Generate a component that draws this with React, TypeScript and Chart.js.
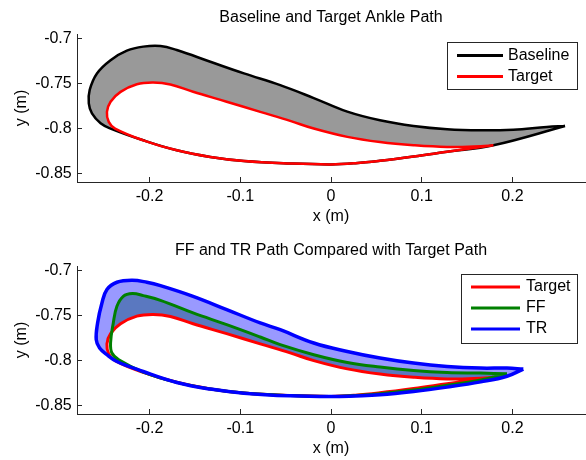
import React, { useEffect, useRef } from 'react';
import { Chart, registerables } from 'chart.js';

Chart.register(...registerables);

const FONT = '"Liberation Sans", Arial, Helvetica, sans-serif';

// ---- axis ticks / limits ----
const xTickValues = [-0.2, -0.1, 0, 0.1, 0.2];
const xTickLabels = ['-0.2', '-0.1', '0', '0.1', '0.2'];
const yTickValues = [-0.85, -0.8, -0.75, -0.7];
const yTickLabels = ['-0.85', '-0.8', '-0.75', '-0.7'];
const xLimits = [-0.28, 0.28];
const yLimits = [-0.859, -0.695];

// ---- Baseline ankle path (closed loop) ----
const baselineX = [0.258, 0.238, 0.201, 0.165, 0.128, 0.091, 0.054, 0.018, -0.019, -0.056, -0.096, -0.133, -0.170, -0.188, -0.207, -0.225, -0.243, -0.258, -0.266, -0.267, -0.2635, -0.254, -0.243, -0.207, -0.170, -0.133, -0.096, -0.045, 0.000, 0.027, 0.054, 0.091, 0.128, 0.179, 0.258];
const baselineY = [-0.797, -0.798, -0.801, -0.8017, -0.8006, -0.797, -0.7906, -0.781, -0.766, -0.7517, -0.7387, -0.7258, -0.7128, -0.7083, -0.709, -0.7135, -0.724, -0.7387, -0.757, -0.772, -0.783, -0.794, -0.7998, -0.8128, -0.8239, -0.8313, -0.8358, -0.8385, -0.8395, -0.8382, -0.8355, -0.8308, -0.8255, -0.8183, -0.797];

// ---- Target ankle path (closed loop) ----
const targetX = [0.179, 0.165, 0.128, 0.091, 0.054, 0.018, -0.019, -0.045, -0.078, -0.115, -0.152, -0.177, -0.196, -0.214, -0.232, -0.243, -0.247, -0.245, -0.238, -0.207, -0.170, -0.133, -0.096, -0.045, 0.000, 0.027, 0.054, 0.091, 0.128, 0.179];
const targetY = [-0.8183, -0.8194, -0.8202, -0.8183, -0.8147, -0.809, -0.7998, -0.7913, -0.7813, -0.770, -0.759, -0.7509, -0.7487, -0.7506, -0.7591, -0.770, -0.7813, -0.7924, -0.7998, -0.8128, -0.8239, -0.8313, -0.8358, -0.8385, -0.8395, -0.8382, -0.8355, -0.8308, -0.8255, -0.8183];

// ---- FF path (closed loop) ----
const ffX = [0.194, 0.165, 0.128, 0.091, 0.054, 0.018, -0.019, -0.056, -0.078, -0.115, -0.152, -0.188, -0.207, -0.219, -0.229, -0.236, -0.240, -0.243, -0.2415, -0.234, -0.207, -0.170, -0.133, -0.096, -0.045, 0.000, 0.027, 0.054, 0.091, 0.128, 0.165, 0.194];
const ffY = [-0.8144, -0.8137, -0.8130, -0.8108, -0.8070, -0.8019, -0.7933, -0.7822, -0.7737, -0.760, -0.747, -0.733, -0.7278, -0.7256, -0.7286, -0.7397, -0.7581, -0.7803, -0.7914, -0.7989, -0.8125, -0.824, -0.8313, -0.8358, -0.8386, -0.8396, -0.8385, -0.8365, -0.8325, -0.8272, -0.8212, -0.8144];

// ---- TR path (closed loop) ----
const trX = [0.212, 0.194, 0.165, 0.128, 0.091, 0.054, 0.018, -0.019, -0.056, -0.078, -0.115, -0.152, -0.188, -0.203, -0.219, -0.236, -0.247, -0.2525, -0.2573, -0.2588, -0.2551, -0.247, -0.236, -0.207, -0.170, -0.133, -0.096, -0.045, 0.000, 0.027, 0.054, 0.091, 0.128, 0.165, 0.194, 0.212];
const trY = [-0.8092, -0.8081, -0.8081, -0.8063, -0.8026, -0.797, -0.7897, -0.7803, -0.7656, -0.7581, -0.7433, -0.7286, -0.7167, -0.713, -0.7108, -0.713, -0.7211, -0.7359, -0.7581, -0.7767, -0.7859, -0.7933, -0.8008, -0.8119, -0.8241, -0.8314, -0.8359, -0.8389, -0.8397, -0.8390, -0.8378, -0.8341, -0.8292, -0.8234, -0.8172, -0.8092];

const toPoints = (xs: number[], ys: number[]) => xs.map((x, i) => ({ x, y: ys[i] }));

Chart.defaults.font.family = FONT;
Chart.defaults.font.size = 16;
Chart.defaults.color = '#000';

type LegendCfg = {
  x: number; y: number; w: number; h: number;
  firstRow: number; rowGap: number;
  lineStart: number; lineLen: number; textStart: number;
  items: number[];
};

function makeBoxLegend(cfg: LegendCfg) {
  return {
    id: 'boxLegend',
    afterDraw(chart: any) {
      const ctx = chart.ctx as CanvasRenderingContext2D;
      ctx.save();
      ctx.fillStyle = '#ffffff';
      ctx.fillRect(cfg.x, cfg.y, cfg.w, cfg.h);
      ctx.strokeStyle = '#262626';
      ctx.lineWidth = 1;
      ctx.strokeRect(cfg.x + 0.5, cfg.y + 0.5, cfg.w, cfg.h);
      ctx.font = `16px ${FONT}`;
      ctx.textBaseline = 'middle';
      ctx.textAlign = 'left';
      cfg.items.forEach((idx, r) => {
        const ds = chart.data.datasets[idx];
        const yy = cfg.y + cfg.firstRow + r * cfg.rowGap;
        ctx.strokeStyle = ds.borderColor;
        ctx.lineWidth = 3;
        ctx.beginPath();
        ctx.moveTo(cfg.x + cfg.lineStart, yy);
        ctx.lineTo(cfg.x + cfg.lineStart + cfg.lineLen, yy);
        ctx.stroke();
        ctx.fillStyle = '#000';
        ctx.fillText(ds.label, cfg.x + cfg.textStart, yy);
      });
      ctx.restore();
    },
  };
}

function makeOptions(title: string, canvasH: number, xTitlePad: number, titleTop: number) {
  const axisColor = '#262626';
  return {
    responsive: false,
    animation: false as const,
    layout: { padding: { left: 0, right: 1, top: 0, bottom: 0 } },
    elements: { point: { radius: 0, hoverRadius: 0 }, line: { tension: 0.4 } },
    plugins: {
      legend: { display: false },
      tooltip: { enabled: false },
      filler: { drawTime: 'beforeDatasetsDraw' },
      title: {
        display: true,
        text: title,
        fullSize: false,
        color: '#000',
        font: { size: 16, weight: 'normal' },
        padding: { top: titleTop, bottom: 34 - 19.2 - titleTop },
      },
    },
    scales: {
      x: {
        type: 'linear',
        min: xLimits[0],
        max: xLimits[1],
        afterBuildTicks: (s: any) => { s.ticks = xTickValues.map((v) => ({ value: v })); },
        afterFit: (s: any) => { s.height = canvasH - 182; },
        ticks: {
          callback: (_v: any, i: number) => xTickLabels[i],
          padding: 10.4,
          maxRotation: 0,
          autoSkip: false,
          color: '#000',
          font: { size: 16 },
        },
        grid: { drawOnChartArea: false, tickLength: -5, color: axisColor },
        border: { color: axisColor, width: 1 },
        title: { display: true, text: 'x (m)', color: '#000', font: { size: 16 }, padding: { top: 0, bottom: xTitlePad } },
      },
      y: {
        type: 'linear',
        min: yLimits[0],
        max: yLimits[1],
        afterBuildTicks: (s: any) => { s.ticks = yTickValues.map((v) => ({ value: v })); },
        afterFit: (s: any) => { s.width = 77; },
        ticks: {
          callback: (_v: any, i: number) => yTickLabels[i],
          padding: 10.3,
          autoSkip: false,
          color: '#000',
          font: { size: 16 },
        },
        grid: { drawOnChartArea: false, tickLength: -5, color: axisColor },
        border: { color: axisColor, width: 1 },
        title: { display: true, text: 'y (m)', color: '#000', font: { size: 16 }, padding: { top: 12, bottom: 0 } },
      },
    },
  };
}

export default function App() {
  const topRef = useRef<HTMLCanvasElement>(null);
  const botRef = useRef<HTMLCanvasElement>(null);

  useEffect(() => {
    document.body.style.margin = '0';
    const target = toPoints(targetX, targetY);
    const baseline = toPoints(baselineX, baselineY);
    const ff = toPoints(ffX, ffY);
    const tr = toPoints(trX, trY);

    const top = new Chart(topRef.current as HTMLCanvasElement, {
      type: 'line',
      data: {
        datasets: [
          { label: 'Target', data: target, borderColor: '#ff0000', borderWidth: 2.5, fill: false },
          { label: 'Baseline', data: baseline, borderColor: '#000000', borderWidth: 2.5, fill: false },
          { label: 'Target area', data: target, borderColor: 'rgba(0,0,0,0)', borderWidth: 0, backgroundColor: '#ffffff', fill: 'shape' },
          { label: 'Baseline area', data: baseline, borderColor: 'rgba(0,0,0,0)', borderWidth: 0, backgroundColor: '#999999', fill: 'shape' },
        ],
      } as any,
      options: makeOptions('Baseline and Target Ankle Path', 232, 5.9, 7.5) as any,
      plugins: [makeBoxLegend({ x: 447, y: 42, w: 130, h: 47, firstRow: 13.5, rowGap: 21, lineStart: 10, lineLen: 46, textStart: 61, items: [1, 0] })],
    });

    const bot = new Chart(botRef.current as HTMLCanvasElement, {
      type: 'line',
      data: {
        datasets: [
          { label: 'TR', data: tr, borderColor: '#0000ff', borderWidth: 3.5, fill: false },
          { label: 'FF', data: ff, borderColor: '#008000', borderWidth: 3, fill: false },
          { label: 'Target', data: target, borderColor: '#ff0000', borderWidth: 3, fill: false },
          { label: 'Target area', data: target, borderColor: 'rgba(0,0,0,0)', borderWidth: 0, backgroundColor: '#ffffff', fill: 'shape' },
          { label: 'FF area', data: ff, borderColor: 'rgba(0,0,0,0)', borderWidth: 0, backgroundColor: '#5a78c0', fill: 'shape' },
          { label: 'TR area', data: tr, borderColor: 'rgba(0,0,0,0)', borderWidth: 0, backgroundColor: '#9999ff', fill: 'shape' },
        ],
      } as any,
      options: makeOptions('FF and TR Path Compared with Target Path', 228, 1.9, 8.5) as any,
      plugins: [makeBoxLegend({ x: 461, y: 42, w: 116, h: 69, firstRow: 13, rowGap: 21, lineStart: 10, lineLen: 49, textStart: 65, items: [2, 1, 0] })],
    });

    return () => {
      top.destroy();
      bot.destroy();
    };
  }, []);

  return (
    <div style={{ width: 586, height: 460, background: '#fff' }}>
      <canvas ref={topRef} width={586} height={232} style={{ display: 'block' }} />
      <canvas ref={botRef} width={586} height={228} style={{ display: 'block' }} />
    </div>
  );
}
